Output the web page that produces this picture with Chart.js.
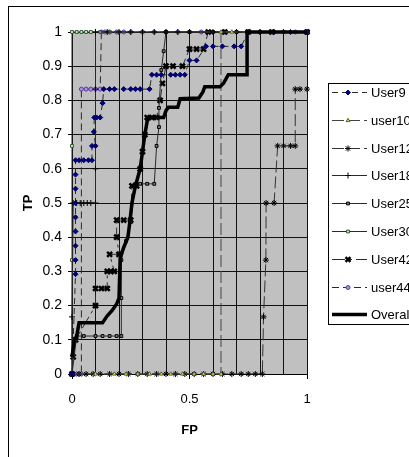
<!DOCTYPE html>
<html>
<head>
<meta charset="utf-8">
<script src="https://cdn.jsdelivr.net/npm/chart.js@4.4.1/dist/chart.umd.min.js"></script>
<style>
  html, body { margin: 0; padding: 0; background: #fff; }
  canvas { display: block; }
</style>
</head>
<body>
<canvas id="rocChart" width="409" height="457"></canvas>
<script>
// [FP, TP] points
const user9 = [[0,0],[0.015,0.292],[0.015,0.333],[0.015,0.375],[0.015,0.417],[0.015,0.458],[0.015,0.5],[0.015,0.542],[0.015,0.583],[0.015,0.625],[0.03,0.625],[0.05,0.625],[0.07,0.625],[0.085,0.625],[0.085,0.667],[0.1,0.667],[0.093,0.708],[0.095,0.75],[0.105,0.75],[0.12,0.75],[0.13,0.792],[0.135,0.833],[0.16,0.833],[0.18,0.833],[0.22,0.833],[0.25,0.833],[0.27,0.833],[0.29,0.833],[0.33,0.833],[0.34,0.875],[0.36,0.875],[0.38,0.875],[0.42,0.875],[0.44,0.875],[0.46,0.875],[0.48,0.875],[0.5,0.917],[0.53,0.917],[0.57,0.958],[0.6,0.958],[0.64,0.958],[0.69,0.958],[0.72,0.958],[0.75,1],[0.8,1],[0.86,1],[0.93,1],[1,1]];
const user10 = [[0,0],[0.1,0],[0.18,0],[0.23,0],[0.28,0],[0.33,0],[0.38,0],[0.42,0],[0.47,0],[0.52,0],[0.56,0],[0.6,0],[0.634,0],[0.634,1],[0.68,1],[0.75,1],[0.8,1],[0.9,1],[1,1]];
const user12 = [[0,0],[0.03,0],[0.06,0],[0.09,0],[0.12,0],[0.16,0],[0.2,0],[0.24,0],[0.28,0],[0.32,0],[0.36,0],[0.4,0],[0.44,0],[0.48,0],[0.52,0],[0.56,0],[0.6,0],[0.64,0],[0.68,0],[0.72,0],[0.75,0],[0.78,0],[0.81,0],[0.815,0.167],[0.825,0.333],[0.826,0.5],[0.86,0.5],[0.875,0.667],[0.9,0.667],[0.93,0.667],[0.95,0.667],[0.95,0.833],[0.97,0.833],[1,0.833]];
const user18 = [[0,0],[0,0.167],[0.005,0.5],[0.02,0.5],[0.035,0.5],[0.05,0.5],[0.065,0.5],[0.08,0.5],[0.1,0.5],[0.1,0.6],[0.1,0.833],[0.1,1],[0.15,1],[0.2,1],[0.25,1],[0.3,1],[0.35,1],[0.4,1],[0.45,1],[0.5,1],[0.6,1],[0.7,1],[0.8,1],[0.9,1],[1,1]];
const user25 = [[0,0],[0.02,0.111],[0.05,0.111],[0.1,0.111],[0.13,0.111],[0.16,0.111],[0.19,0.111],[0.21,0.111],[0.21,0.222],[0.21,0.333],[0.23,0.389],[0.25,0.444],[0.27,0.556],[0.29,0.556],[0.32,0.556],[0.35,0.556],[0.36,0.667],[0.37,0.722],[0.37,0.778],[0.38,0.889],[0.39,0.944],[0.4,1],[0.5,1],[0.6,1],[0.7,1],[0.8,1],[0.9,1],[1,1]];
const user30 = [[0,0],[0,0.333],[0,0.667],[0,1],[0.02,1],[0.04,1],[0.06,1],[0.08,1],[0.12,1],[0.16,1],[0.2,1],[0.3,1],[0.4,1],[0.5,1],[0.6,1],[0.7,1],[0.8,1],[0.9,1],[1,1]];
const user42 = [[0,0],[0.005,0.05],[0.015,0.1],[0.1,0.2],[0.1,0.25],[0.125,0.25],[0.15,0.25],[0.15,0.3],[0.165,0.3],[0.18,0.3],[0.16,0.35],[0.2,0.35],[0.19,0.4],[0.19,0.45],[0.22,0.45],[0.25,0.45],[0.255,0.55],[0.275,0.55],[0.29,0.6],[0.3,0.65],[0.31,0.7],[0.32,0.75],[0.34,0.75],[0.36,0.75],[0.375,0.8],[0.385,0.85],[0.4,0.9],[0.43,0.9],[0.47,0.9],[0.5,0.95],[0.53,0.95],[0.56,0.95],[0.58,1],[0.65,1],[0.75,1],[0.85,1],[1,1]];
const user44 = [[0,0],[0.01,0],[0.02,0],[0.03,0],[0.04,0],[0.04,0.833],[0.06,0.833],[0.08,0.833],[0.1,0.833],[0.12,0.833],[0.125,1],[0.14,1],[0.16,1],[0.19,1],[0.22,1],[0.25,1],[0.3,1],[0.35,1],[0.4,1],[0.45,1],[0.55,1],[0.65,1],[0.75,1],[0.85,1],[0.95,1],[1,1]];
const overall = [[0,0.05],[0.01,0.1],[0.02,0.11],[0.03,0.15],[0.08,0.15],[0.13,0.15],[0.15,0.17],[0.17,0.185],[0.19,0.205],[0.2,0.222],[0.205,0.34],[0.22,0.37],[0.238,0.4],[0.247,0.45],[0.255,0.5],[0.27,0.55],[0.29,0.6],[0.3,0.65],[0.31,0.7],[0.32,0.74],[0.33,0.75],[0.39,0.75],[0.4,0.77],[0.41,0.78],[0.45,0.78],[0.46,0.805],[0.54,0.807],[0.557,0.825],[0.565,0.84],[0.63,0.84],[0.645,0.85],[0.665,0.875],[0.745,0.875],[0.745,1],[1,1]];

const xLabels = ['0', '0.5', '1'];
const yLabels = ['0', '0.1', '0.2', '0.3', '0.4', '0.5', '0.6', '0.7', '0.8', '0.9', '1'];

const FONT = "'Liberation Sans', Arial, sans-serif";
Chart.defaults.font.family = FONT;
Chart.defaults.color = '#000';

const toXY = pts => pts.map(p => ({ x: p[0], y: p[1] }));

function series(label, pts, o) {
    return Object.assign({
        label: label,
        data: toXY(pts),
        showLine: true,
        borderColor: '#2a2a2a',
        borderWidth: 1,
        borderDash: [],
        pointRadius: 2.5,
        pointBorderWidth: 1,
        pointBorderColor: '#000',
        pointBackgroundColor: '#000',
        pointStyle: 'circle',
        tension: 0,
        clip: 8,
        order: 1
    }, o);
}

const datasets = [
    series('User9', user9, { borderDash: [6, 4], pointStyle: 'rectRot', pointBackgroundColor: '#000080', pointBorderColor: '#000060', pointRadius: 2.5 }),
    series('user10', user10, { borderColor: '#444', borderDash: [12, 4], pointStyle: 'triangle', pointBackgroundColor: '#ffff00', pointBorderColor: '#555', pointRadius: 2.2 }),
    series('User12', user12, { borderColor: '#333', borderDash: [12, 4], pointStyle: 'star', pointRadius: 3 }),
    series('User18', user18, { pointStyle: 'cross', pointRadius: 3 }),
    series('User25', user25, { pointStyle: 'rect', pointBackgroundColor: '#808080', pointRadius: 2 }),
    series('User30', user30, { pointStyle: 'rect', pointBackgroundColor: '#ccffcc', pointBorderColor: '#335533', pointRadius: 2 }),
    series('User42', user42, { borderDash: [13, 4, 3, 4], pointStyle: 'crossRot', pointRadius: 3.5, pointBorderWidth: 2.5 }),
    series('user44', user44, { borderDash: [7, 4], pointStyle: 'circle', pointBackgroundColor: '#a890e8', pointBorderColor: '#5a3a9a', pointRadius: 2 }),
    series('Overall', overall, { borderColor: '#000', borderWidth: 3.5, pointRadius: 0, order: 0 })
];

// white page with the outer chart frame and grey plot area
const framePlugin = {
    id: 'frame',
    beforeDraw(chart) {
        const ctx = chart.ctx;
        const a = chart.chartArea;
        ctx.save();
        ctx.fillStyle = '#fff';
        ctx.fillRect(0, 0, chart.width, chart.height);
        ctx.strokeStyle = '#000';
        ctx.lineWidth = 1;
        ctx.strokeRect(8.5, 6.5, 600, 600);
        ctx.fillStyle = '#c0c0c0';
        ctx.fillRect(a.left, a.top, a.right - a.left, a.bottom - a.top);
        ctx.restore();
    }
};

// legend box on the right, drawn from the datasets
const legendPlugin = {
    id: 'legendBox',
    afterDraw(chart) {
        const ctx = chart.ctx;
        ctx.save();
        ctx.fillStyle = '#fff';
        ctx.fillRect(328.5, 83.5, 120, 241);
        ctx.strokeStyle = '#000';
        ctx.lineWidth = 1;
        ctx.strokeRect(328.5, 83.5, 120, 241);
        chart.data.datasets.forEach((ds, i) => {
            const y = Math.round(92 + i * 27.8) + 0.5;
            ctx.beginPath();
            ctx.setLineDash(ds.borderDash);
            ctx.strokeStyle = ds.borderColor;
            ctx.lineWidth = ds.borderWidth;
            ctx.moveTo(332, y);
            ctx.lineTo(367, y);
            ctx.stroke();
            ctx.setLineDash([]);
            if (ds.pointRadius > 0) {
                ctx.fillStyle = ds.pointBackgroundColor;
                ctx.strokeStyle = ds.pointBorderColor;
                ctx.lineWidth = ds.pointBorderWidth;
                Chart.helpers.drawPoint(ctx, {
                    pointStyle: ds.pointStyle,
                    radius: ds.pointRadius,
                    borderWidth: ds.pointBorderWidth,
                    rotation: 0
                }, 348, y);
            }
            ctx.fillStyle = '#000';
            ctx.font = '13px ' + FONT;
            ctx.textBaseline = 'middle';
            ctx.textAlign = 'left';
            ctx.fillText(ds.label, 371, y + 1);
        });
        ctx.restore();
    }
};

const near = (v, t) => Math.abs(v - t) < 1e-6;

new Chart(document.getElementById('rocChart'), {
    type: 'scatter',
    data: { datasets: datasets },
    options: {
        responsive: false,
        animation: false,
        events: [],
        layout: { padding: { left: 0, top: 32, right: 102, bottom: 0 } },
        plugins: {
            legend: { display: false },
            tooltip: { enabled: false }
        },
        scales: {
            x: {
                type: 'linear',
                min: 0,
                max: 1,
                afterFit: s => { s.height = 83; },
                border: { display: true, color: '#000', width: 1 },
                grid: {
                    color: '#111',
                    lineWidth: 1,
                    tickLength: 5,
                    tickColor: c => (near(c.tick.value, 0) || near(c.tick.value, 0.5) || near(c.tick.value, 1)) ? '#000' : 'rgba(0,0,0,0)'
                },
                ticks: {
                    stepSize: 0.1,
                    autoSkip: false,
                    maxRotation: 0,
                    padding: 13,
                    font: { size: 13 },
                    callback: v => near(v, 0) ? xLabels[0] : near(v, 0.5) ? xLabels[1] : near(v, 1) ? xLabels[2] : ''
                },
                title: {
                    display: true,
                    text: 'FP',
                    font: { size: 13, weight: 'bold' },
                    padding: { top: 0, bottom: 19 }
                }
            },
            y: {
                type: 'linear',
                min: 0,
                max: 1,
                afterFit: s => { s.width = 72; },
                border: { display: true, color: '#000', width: 1 },
                grid: { color: '#111', lineWidth: 1, tickLength: 4, tickColor: '#000' },
                ticks: {
                    stepSize: 0.1,
                    autoSkip: false,
                    padding: 6,
                    font: { size: 14 },
                    callback: v => yLabels[Math.round(v * 10)]
                },
                title: {
                    display: true,
                    text: 'TP',
                    font: { size: 13, weight: 'bold' },
                    padding: { top: 21, bottom: 0 }
                }
            }
        }
    },
    plugins: [framePlugin, legendPlugin]
});
</script>
</body>
</html>
